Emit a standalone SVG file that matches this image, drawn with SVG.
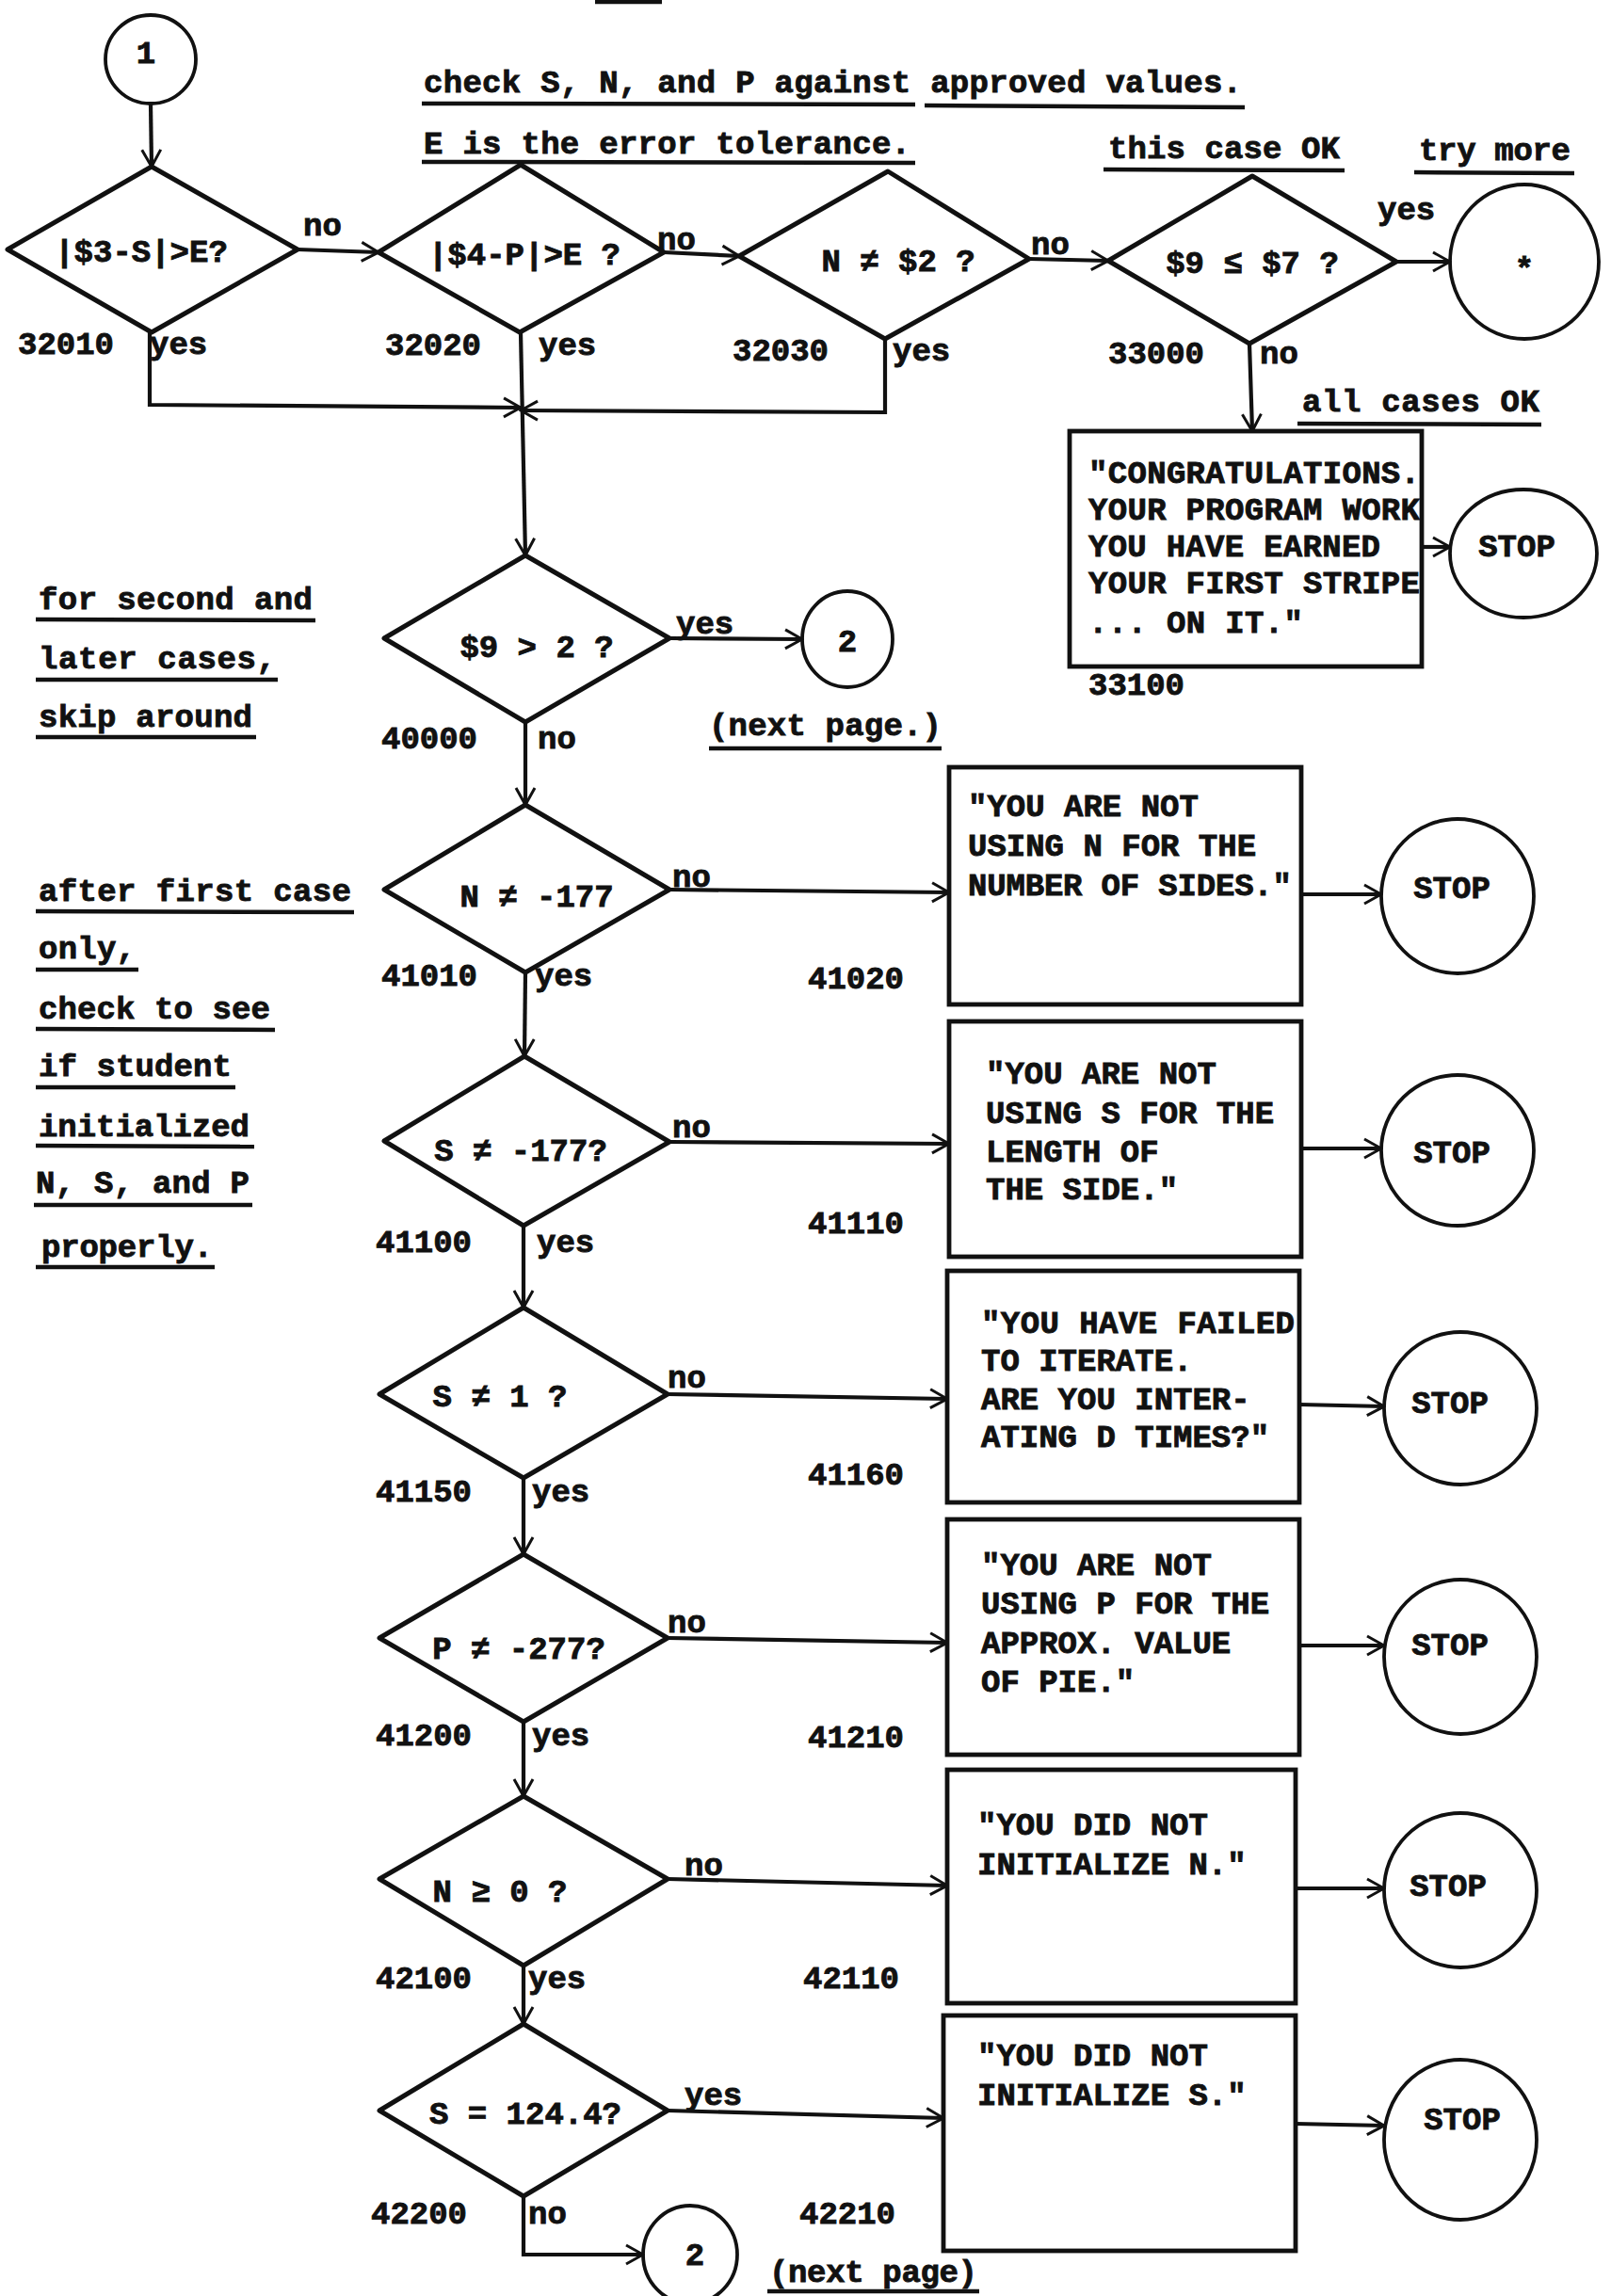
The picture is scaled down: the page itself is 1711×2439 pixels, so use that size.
<svg xmlns="http://www.w3.org/2000/svg" width="1711" height="2439" viewBox="0 0 1711 2439">
<style>
  .t{font-family:"Liberation Mono","DejaVu Sans Mono",monospace;font-weight:bold;font-size:34px;fill:#111;stroke:#111;stroke-width:0.9}
  .m{text-anchor:middle}
  .shape{fill:none;stroke:#111;stroke-width:5;stroke-linejoin:round}
  .circ{fill:none;stroke:#111;stroke-width:3.8}
  .box{fill:none;stroke:#111;stroke-width:4.8}
  .con{fill:none;stroke:#111;stroke-width:4.2}
  .ul{stroke:#111;stroke-width:4.5}
</style>
<defs>
  <marker id="arr" viewBox="0 0 24 24" refX="22" refY="12" markerWidth="24" markerHeight="24" markerUnits="userSpaceOnUse" orient="auto">
    <path d="M4,2 L22,12 L4,22" fill="none" stroke="#111" stroke-width="3"/>
  </marker>
</defs>
<rect width="1711" height="2439" fill="#fff"/>
<line class="ul" x1="632" y1="2" x2="703" y2="2" stroke-width="6"/>

<g id="connectors">
  <line class="con" x1="160" y1="110" x2="161" y2="177" marker-end="url(#arr)"/>
  <line class="con" x1="316" y1="265" x2="402" y2="268" marker-end="url(#arr)"/>
  <line class="con" x1="705" y1="268" x2="785" y2="272" marker-end="url(#arr)"/>
  <line class="con" x1="1093" y1="275" x2="1177" y2="277" marker-end="url(#arr)"/>
  <line class="con" x1="1483" y1="278" x2="1540" y2="278" marker-end="url(#arr)"/>
  <line class="con" x1="1327" y1="365" x2="1330" y2="458" marker-end="url(#arr)"/>
  <line class="con" x1="1510" y1="581" x2="1540" y2="581" marker-end="url(#arr)"/>
  <polyline class="con" points="159,353 159,430 553,433" marker-end="url(#arr)"/>
  <polyline class="con" points="940,360 940,438 553,436" marker-end="url(#arr)"/>
  <line class="con" x1="553" y1="353" x2="558" y2="590" marker-end="url(#arr)"/>
  <line class="con" x1="711" y1="678" x2="852" y2="679" marker-end="url(#arr)"/>
  <line class="con" x1="558" y1="767" x2="558" y2="855" marker-end="url(#arr)"/>
  <line class="con" x1="711" y1="945" x2="1008" y2="948" marker-end="url(#arr)"/>
  <line class="con" x1="1382" y1="950" x2="1467" y2="950" marker-end="url(#arr)"/>
  <line class="con" x1="558" y1="1033" x2="557" y2="1122" marker-end="url(#arr)"/>
  <line class="con" x1="711" y1="1213" x2="1008" y2="1215" marker-end="url(#arr)"/>
  <line class="con" x1="1382" y1="1220" x2="1467" y2="1220" marker-end="url(#arr)"/>
  <line class="con" x1="556" y1="1302" x2="556" y2="1389" marker-end="url(#arr)"/>
  <line class="con" x1="709" y1="1481" x2="1006" y2="1486" marker-end="url(#arr)"/>
  <line class="con" x1="1380" y1="1492" x2="1470" y2="1494" marker-end="url(#arr)"/>
  <line class="con" x1="556" y1="1570" x2="556" y2="1651" marker-end="url(#arr)"/>
  <line class="con" x1="709" y1="1740" x2="1006" y2="1745" marker-end="url(#arr)"/>
  <line class="con" x1="1380" y1="1748" x2="1470" y2="1748" marker-end="url(#arr)"/>
  <line class="con" x1="556" y1="1829" x2="556" y2="1908" marker-end="url(#arr)"/>
  <line class="con" x1="709" y1="1996" x2="1006" y2="2003" marker-end="url(#arr)"/>
  <line class="con" x1="1376" y1="2006" x2="1470" y2="2006" marker-end="url(#arr)"/>
  <line class="con" x1="556" y1="2088" x2="556" y2="2150" marker-end="url(#arr)"/>
  <line class="con" x1="709" y1="2242" x2="1002" y2="2250" marker-end="url(#arr)"/>
  <line class="con" x1="1376" y1="2256" x2="1470" y2="2258" marker-end="url(#arr)"/>
  <polyline class="con" points="556,2333 556,2395 683,2395" marker-end="url(#arr)"/>
  <text class="t" x="322" y="250">no</text>
  <text class="t" x="698" y="265">no</text>
  <text class="t" x="1095" y="270">no</text>
  <text class="t" x="1463" y="233">yes</text>
  <text class="t" x="159" y="376">yes</text>
  <text class="t" x="572" y="377">yes</text>
  <text class="t" x="948" y="383">yes</text>
  <text class="t" x="1338" y="386">no</text>
  <text class="t" x="718" y="673">yes</text>
  <text class="t" x="571" y="795">no</text>
  <text class="t" x="714" y="942">no</text>
  <text class="t" x="568" y="1047">yes</text>
  <text class="t" x="714" y="1208">no</text>
  <text class="t" x="570" y="1330">yes</text>
  <text class="t" x="709" y="1474">no</text>
  <text class="t" x="565" y="1595">yes</text>
  <text class="t" x="709" y="1734">no</text>
  <text class="t" x="565" y="1854">yes</text>
  <text class="t" x="727" y="1992">no</text>
  <text class="t" x="561" y="2112">yes</text>
  <text class="t" x="727" y="2236">yes</text>
  <text class="t" x="561" y="2362">no</text>
</g>

<g id="notes">
  <text class="t" x="450" y="98" textLength="869">check S, N, and P against approved values.</text>
  <line class="ul" x1="448" y1="110" x2="972" y2="111"/>
  <line class="ul" x1="982" y1="112" x2="1322" y2="114"/>
  <text class="t" x="450" y="163" textLength="517">E is the error tolerance.</text>
  <line class="ul" x1="448" y1="172" x2="972" y2="173"/>
  <text class="t" x="1177" y="168" textLength="246">this case OK</text>
  <line class="ul" x1="1172" y1="180" x2="1428" y2="181"/>
  <text class="t" x="1507" y="170" textLength="161">try more</text>
  <line class="ul" x1="1502" y1="183" x2="1672" y2="184"/>
  <text class="t" x="1383" y="437" textLength="252">all cases OK</text>
  <line class="ul" x1="1378" y1="450" x2="1637" y2="451"/>
  <text class="t" x="41" y="647" textLength="291">for second and</text>
  <line class="ul" x1="38" y1="658" x2="335" y2="659"/>
  <text class="t" x="41" y="710" textLength="252">later cases,</text>
  <line class="ul" x1="38" y1="722" x2="295" y2="722"/>
  <text class="t" x="41" y="772" textLength="227">skip around</text>
  <line class="ul" x1="38" y1="783" x2="272" y2="783"/>
  <text class="t" x="753" y="781" textLength="247">(next page.)</text>
  <line class="ul" x1="753" y1="795" x2="1000" y2="795"/>
  <text class="t" x="41" y="957" textLength="332">after first case</text>
  <line class="ul" x1="38" y1="968" x2="376" y2="969"/>
  <text class="t" x="41" y="1018" textLength="103">only,</text>
  <line class="ul" x1="38" y1="1030" x2="147" y2="1030"/>
  <text class="t" x="41" y="1082" textLength="246">check to see</text>
  <line class="ul" x1="38" y1="1093" x2="292" y2="1094"/>
  <text class="t" x="41" y="1143" textLength="205">if student</text>
  <line class="ul" x1="38" y1="1155" x2="250" y2="1155"/>
  <text class="t" x="41" y="1207" textLength="224">initialized</text>
  <line class="ul" x1="38" y1="1217" x2="270" y2="1218"/>
  <text class="t" x="38" y="1267" textLength="227">N, S, and P</text>
  <line class="ul" x1="36" y1="1280" x2="268" y2="1280"/>
  <text class="t" x="44" y="1335" textLength="182">properly.</text>
  <line class="ul" x1="38" y1="1346" x2="228" y2="1346"/>
  <text class="t" x="817" y="2424" textLength="221">(next page)</text>
  <line class="ul" x1="815" y1="2434" x2="1040" y2="2434"/>
</g>

<g id="n-start">
  <ellipse class="circ" cx="160" cy="63" rx="48" ry="47"/>
  <text class="t m" x="155" y="67">1</text>
</g>
<g id="n-32010">
  <polygon class="shape" points="161,177 316,265 161,353 8,265"/>
  <text class="t m" x="150" y="278">|$3-S|&gt;E?</text>
  <text class="t" x="19" y="376">32010</text>
</g>
<g id="n-32020">
  <polygon class="shape" points="553,175 705,268 552,353 402,268"/>
  <text class="t m" x="557" y="281">|$4-P|&gt;E ?</text>
  <text class="t" x="409" y="377">32020</text>
</g>
<g id="n-32030">
  <polygon class="shape" points="943,182 1093,275 940,360 785,272"/>
  <text class="t m" x="954" y="288">N ≠ $2 ?</text>
  <text class="t" x="778" y="383">32030</text>
</g>
<g id="n-33000">
  <polygon class="shape" points="1330,187 1483,278 1327,365 1177,277"/>
  <text class="t m" x="1330" y="290">$9 ≤ $7 ?</text>
  <text class="t" x="1177" y="386">33000</text>
</g>
<g id="n-more">
  <ellipse class="circ" cx="1619" cy="278" rx="79" ry="82"/>
  <text class="t m" x="1619" y="296">*</text>
</g>
<g id="n-33100">
  <rect class="box" x="1136" y="458" width="374" height="250"/>
  <text class="t" x="1156" y="513" textLength="352">"CONGRATULATIONS.</text>
  <text class="t" x="1156" y="552" textLength="352">YOUR PROGRAM WORK</text>
  <text class="t" x="1156" y="591" textLength="310">YOU HAVE EARNED</text>
  <text class="t" x="1156" y="630" textLength="352">YOUR FIRST STRIPE</text>
  <text class="t" x="1156" y="672" textLength="228">... ON IT."</text>
  <text class="t" x="1156" y="738">33100</text>
</g>
<g id="n-stop0">
  <ellipse class="circ" cx="1618" cy="588" rx="78" ry="68"/>
  <text class="t m" x="1611" y="591">STOP</text>
</g>
<g id="n-40000">
  <polygon class="shape" points="558,590 711,678 558,767 408,678"/>
  <text class="t m" x="570" y="698">$9 &gt; 2 ?</text>
  <text class="t" x="405" y="795">40000</text>
</g>
<g id="n-next1">
  <ellipse class="circ" cx="900" cy="679" rx="48" ry="51"/>
  <text class="t m" x="900" y="692">2</text>
</g>
<g id="n-41010">
  <polygon class="shape" points="558,855 711,945 558,1033 408,945"/>
  <text class="t m" x="570" y="963">N ≠ -177</text>
  <text class="t" x="405" y="1047">41010</text>
</g>
<g id="n-41020">
  <rect class="box" x="1008" y="815" width="374" height="252"/>
  <text class="t" x="1028" y="867">"YOU ARE NOT</text>
  <text class="t" x="1028" y="909">USING N FOR THE</text>
  <text class="t" x="1028" y="951" textLength="344">NUMBER OF SIDES."</text>
  <text class="t" x="858" y="1050">41020</text>
</g>
<g id="n-stop1">
  <ellipse class="circ" cx="1548" cy="952" rx="81" ry="82"/>
  <text class="t m" x="1542" y="954">STOP</text>
</g>
<g id="n-41100">
  <polygon class="shape" points="557,1122 711,1213 556,1302 408,1212"/>
  <text class="t m" x="553" y="1233">S ≠ -177?</text>
  <text class="t" x="399" y="1330">41100</text>
</g>
<g id="n-41110">
  <rect class="box" x="1008" y="1085" width="374" height="250"/>
  <text class="t" x="1047" y="1151">"YOU ARE NOT</text>
  <text class="t" x="1047" y="1193">USING S FOR THE</text>
  <text class="t" x="1047" y="1234">LENGTH OF</text>
  <text class="t" x="1047" y="1274">THE SIDE."</text>
  <text class="t" x="858" y="1310">41110</text>
</g>
<g id="n-stop2">
  <ellipse class="circ" cx="1548" cy="1222" rx="81" ry="80"/>
  <text class="t m" x="1542" y="1235">STOP</text>
</g>
<g id="n-41150">
  <polygon class="shape" points="556,1389 709,1481 556,1570 403,1481"/>
  <text class="t m" x="531" y="1494">S ≠ 1 ?</text>
  <text class="t" x="399" y="1595">41150</text>
</g>
<g id="n-41160">
  <rect class="box" x="1006" y="1350" width="374" height="246"/>
  <text class="t" x="1042" y="1416" textLength="333">"YOU HAVE FAILED</text>
  <text class="t" x="1042" y="1456">TO ITERATE.</text>
  <text class="t" x="1042" y="1497">ARE YOU INTER-</text>
  <text class="t" x="1042" y="1537">ATING D TIMES?"</text>
  <text class="t" x="858" y="1577">41160</text>
</g>
<g id="n-stop3">
  <ellipse class="circ" cx="1551" cy="1496" rx="81" ry="81"/>
  <text class="t m" x="1540" y="1501">STOP</text>
</g>
<g id="n-41200">
  <polygon class="shape" points="556,1651 709,1740 556,1829 403,1740"/>
  <text class="t m" x="551" y="1762">P ≠ -277?</text>
  <text class="t" x="399" y="1854">41200</text>
</g>
<g id="n-41210">
  <rect class="box" x="1006" y="1614" width="374" height="250"/>
  <text class="t" x="1042" y="1673">"YOU ARE NOT</text>
  <text class="t" x="1042" y="1714">USING P FOR THE</text>
  <text class="t" x="1042" y="1756">APPROX. VALUE</text>
  <text class="t" x="1042" y="1797">OF PIE."</text>
  <text class="t" x="858" y="1856">41210</text>
</g>
<g id="n-stop4">
  <ellipse class="circ" cx="1551" cy="1760" rx="81" ry="82"/>
  <text class="t m" x="1540" y="1758">STOP</text>
</g>
<g id="n-42100">
  <polygon class="shape" points="556,1908 709,1996 556,2088 403,1996"/>
  <text class="t m" x="531" y="2020">N ≥ 0 ?</text>
  <text class="t" x="399" y="2112">42100</text>
</g>
<g id="n-42110">
  <rect class="box" x="1006" y="1880" width="370" height="248"/>
  <text class="t" x="1038" y="1949">"YOU DID NOT</text>
  <text class="t" x="1038" y="1991">INITIALIZE N."</text>
  <text class="t" x="853" y="2112">42110</text>
</g>
<g id="n-stop5">
  <ellipse class="circ" cx="1551" cy="2008" rx="81" ry="82"/>
  <text class="t m" x="1538" y="2014">STOP</text>
</g>
<g id="n-42200">
  <polygon class="shape" points="556,2150 709,2242 556,2333 403,2242"/>
  <text class="t m" x="558" y="2256">S = 124.4?</text>
  <text class="t" x="394" y="2362">42200</text>
</g>
<g id="n-42210">
  <rect class="box" x="1002" y="2141" width="374" height="250"/>
  <text class="t" x="1038" y="2194">"YOU DID NOT</text>
  <text class="t" x="1038" y="2236">INITIALIZE S."</text>
  <text class="t" x="849" y="2362">42210</text>
</g>
<g id="n-stop6">
  <ellipse class="circ" cx="1551" cy="2273" rx="81" ry="85"/>
  <text class="t m" x="1553" y="2262">STOP</text>
</g>
<g id="n-next2">
  <ellipse class="circ" cx="733" cy="2395" rx="50" ry="52"/>
  <text class="t m" x="738" y="2406">2</text>
</g>
</svg>
